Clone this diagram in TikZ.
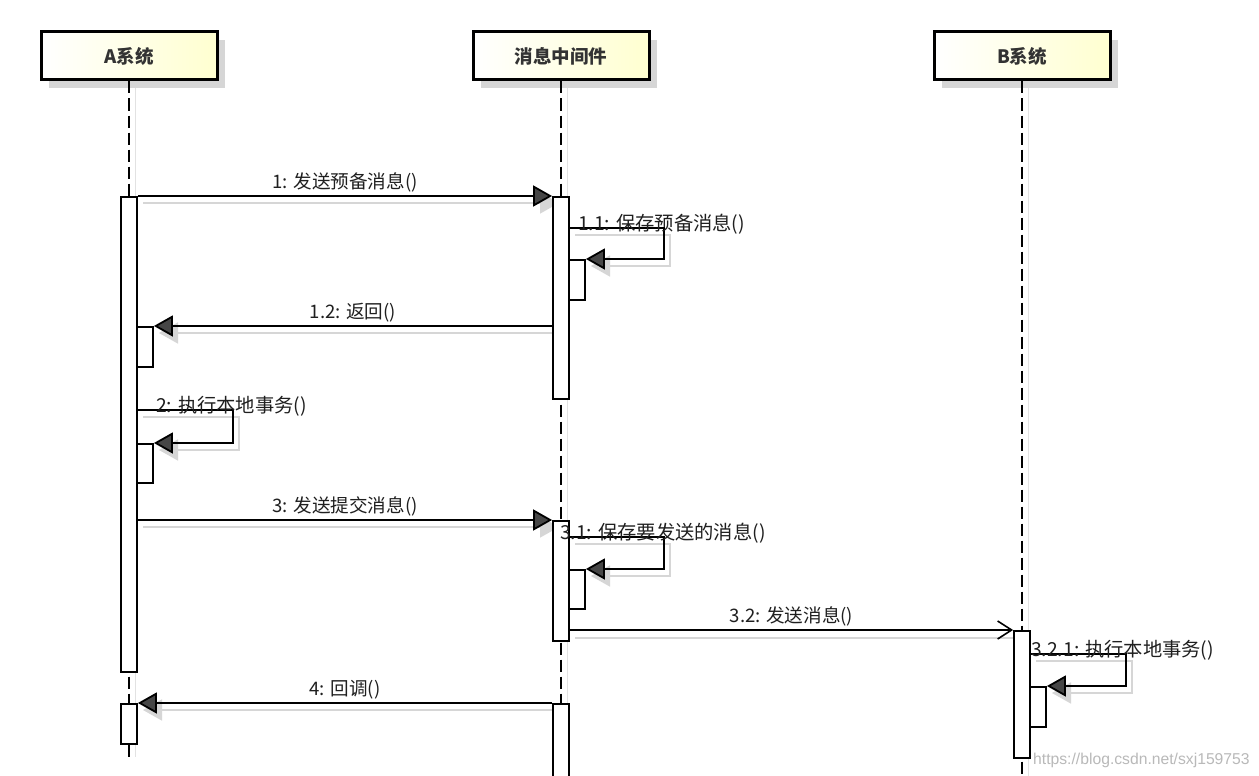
\documentclass[tikz,border=0pt]{standalone}
\usepackage{fontspec}
\setmainfont{Noto Sans CJK SC}
\newfontfamily\wmfont{Liberation Sans}
\usetikzlibrary{arrows.meta,shadows,calc}
\definecolor{headyellow}{RGB}{255,255,208}
\definecolor{shadowgray}{RGB}{214,214,214}
\definecolor{tipgray}{RGB}{70,70,70}
\begin{document}
\begin{tikzpicture}[x=1pt,y=-1pt,
  head/.style={draw=black, line width=3pt, minimum width=176pt, minimum height=48pt, inner sep=0pt,
    left color=white, right color=headyellow, text=black!80,
    font=\fontsize{18.5}{22}\selectfont\bfseries,
    drop shadow={shadow xshift=8pt, shadow yshift=-8pt, fill=shadowgray, opacity=1}},
  lifeline/.style={line width=1.5pt, dash pattern=on 12pt off 5pt},
  lifesh/.style={line width=1pt, draw=shadowgray!70},
  act/.style={draw=black, fill=white, line width=1.8pt, minimum width=16pt, inner sep=0pt, anchor=north},
  msg/.style={line width=1.8pt, -{Triangle[length=19pt,width=21pt,fill=tipgray]}},
  msgopen/.style={line width=1.6pt, -{Straight Barb[length=14pt,width=18pt]}},
  msgsh/.style={line width=1.5pt, draw=shadowgray, -{Triangle[length=19pt,width=21pt,fill=shadowgray]}},
  lbl/.style={above, inner sep=3pt, text=black!88, font=\fontsize{18.6}{21}\selectfont},
  slbl/.style={anchor=base west, inner sep=0pt, text=black!88, font=\fontsize{19.3}{22}\selectfont},
  wm/.style={anchor=base west, inner sep=0pt, text=gray!55, font=\wmfont\fontsize{15.7}{18}\selectfont}
]
\fill[white] (0,0) rectangle (1259,776);
\useasboundingbox (0,0) rectangle (1259,776);

% lifeline shadows
\draw[lifesh] (135,88) -- (135,757);
\draw[lifesh] (567,88) -- (567,776);
\draw[lifesh] (1028,88) -- (1028,776);

% heads
\node[head] (A) at (129,56) {A系统};
\node[head] (M) at (561,56) {消息中间件};
\node[head] (B) at (1022,56) {B系统};

% lifelines
\draw[lifeline] (A.south) -- (129,757);
\draw[lifeline] (M.south) -- (561,776);
\draw[lifeline] (B.south) -- (1022,776);

% message shadows
\draw[msgsh] ($(137,196)+(6,7)$) -- ($(553,196)+(6,7)$);
\draw[msgsh] ($(569,228)+(6,7)$) -- ($(664,228)+(6,7)$) -- ($(664,259)+(6,7)$) -- ($(585,259)+(6,7)$);
\draw[msgsh] ($(553,326)+(6,7)$) -- ($(153,326)+(6,7)$);
\draw[msgsh] ($(137,410)+(6,7)$) -- ($(233,410)+(6,7)$) -- ($(233,443)+(6,7)$) -- ($(153,443)+(6,7)$);
\draw[msgsh] ($(137,520)+(6,7)$) -- ($(553,520)+(6,7)$);
\draw[msgsh] ($(569,537)+(6,7)$) -- ($(664,537)+(6,7)$) -- ($(664,569)+(6,7)$) -- ($(585,569)+(6,7)$);
\draw[line width=1.5pt, draw=shadowgray] ($(569,631)+(6,7)$) -- ($(1008,631)+(6,7)$);
\draw[msgsh] ($(1030,654)+(6,7)$) -- ($(1126,654)+(6,7)$) -- ($(1126,686)+(6,7)$) -- ($(1046,686)+(6,7)$);
\draw[msgsh] ($(553,703)+(6,7)$) -- ($(137,703)+(6,7)$);

% activations
\node[act, minimum height=475pt] (A1) at (129,196) {};
\node[act, minimum height=40pt] (As1) at (145,326) {};
\node[act, minimum height=39pt] (As2) at (145,443) {};
\node[act, minimum height=40pt] (A2) at (129,703) {};
\node[act, minimum height=202pt] (M1) at (561,196) {};
\node[act, minimum height=40pt] (Ms1) at (577,259) {};
\node[act, minimum height=120pt] (M2) at (561,520) {};
\node[act, minimum height=39pt] (Ms2) at (577,569) {};
\node[act, minimum height=80pt] (M3) at (561,703) {};
\node[act, minimum height=127pt] (B1) at (1022,630) {};
\node[act, minimum height=40pt] (Bs1) at (1038,686) {};

% self-call corners
\coordinate (c11) at (664,228);
\coordinate (c2) at (233,410);
\coordinate (c31) at (664,537);
\coordinate (c321) at (1126,654);

% messages
\draw[msg] (A1.north east) -- node[lbl] {1: 发送预备消息()} (M1.north west);
\draw[msg] (M1.east |- c11) -- (c11) |- (Ms1.north east);
\draw[msg] (M1.west |- As1.north) -- node[lbl] {1.2: 返回()} (As1.north east);
\draw[msg] (A1.east |- c2) -- (c2) |- (As2.north east);
\draw[msg] (A1.east |- M2.north) -- node[lbl] {3: 发送提交消息()} (M2.north west);
\draw[msg] (M2.east |- c31) -- (c31) |- (Ms2.north east);
\draw[msgopen] (M2.east |- B1.north) -- node[lbl] {3.2: 发送消息()} (B1.north west);
\draw[msg] (B1.east |- c321) -- (c321) |- (Bs1.north east);
\draw[msg] (M3.north west) -- node[lbl] {4: 回调()} (A2.north east);

% self-call labels
\node[slbl] (l11) at (578,230) {1.1: 保存预备消息()};
\node[slbl] (l2) at (156,412) {2: 执行本地事务()};
\node[slbl] (l31) at (560,539) {3.1: 保存要发送的消息()};
\node[slbl] (l321) at (1031,656) {3.2.1: 执行本地事务()};

% watermark
\node[wm] (wm) at (1033,764) {https://blog.csdn.net/sxj159753};
\end{tikzpicture}
\end{document}
